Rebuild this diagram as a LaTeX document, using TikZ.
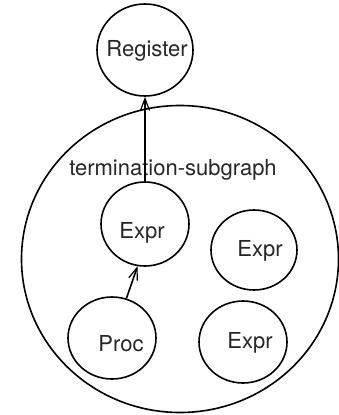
\documentclass[tikz,border=0pt]{standalone}
\usepackage{fontspec}
\setmainfont{TeX Gyre Heros}
\usetikzlibrary{shapes.geometric,arrows.meta}
\begin{document}
\begin{tikzpicture}[x=1pt,y=-1pt,
  oval/.style={draw,ellipse,line width=1.6pt,inner sep=0pt},
  lbl/.style={font=\fontsize{22}{26}\selectfont,text=black!85,inner sep=0pt},
  arr/.style={line width=1.6pt,-{Straight Barb[length=12pt,width=9pt,line width=1.2pt]}}]
\useasboundingbox (0,0) rectangle (339,415);
\node[oval,minimum width=96pt,minimum height=92pt] (reg) at (145,50) {};
\node[oval,minimum width=317pt,minimum height=307pt] (big) at (180,259) {};
\node[oval,minimum width=88pt,minimum height=84pt] (e1) at (145,224) {};
\node[oval,minimum width=86pt,minimum height=80pt] (e2) at (254,250) {};
\node[oval,minimum width=88pt,minimum height=82pt] (proc) at (112,338) {};
\node[oval,minimum width=88pt,minimum height=82pt] (e3) at (243,342) {};
\node[lbl] (treg) at (147,51) {Register};
\node[lbl] (tsub) at (173,170) {termination-subgraph};
\node[lbl] (te1) at (142,233) {Expr};
\node[lbl] (te2) at (260,251) {Expr};
\node[lbl] (tproc) at (121,344) {Proc};
\node[lbl] (te3) at (250,343) {Expr};
\draw[arr] (e1.north) -- (e1.north |- reg.south);
\draw[arr] (proc.70) -- (e1.260);
\end{tikzpicture}
\end{document}
